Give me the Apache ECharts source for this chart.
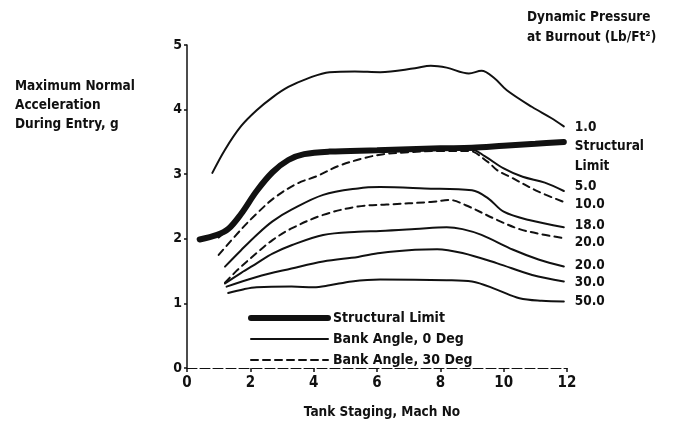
<!DOCTYPE html>
<html>
<head>
    <meta charset="utf-8">
    <title>Maximum Normal Acceleration</title>
    <script src="https://cdn.jsdelivr.net/npm/echarts@6/dist/echarts.min.js"></script>
    <style>
        html, body { margin: 0; padding: 0; background: #fff; }
    </style>
</head>
<body>
    <div id="main" style="width: 686px;height:431px;"></div>
    <script type="text/javascript">
        // curves: [Mach No, g]
        var structuralLimit = [[0.4, 1.99], [0.95, 2.06], [1.3, 2.15], [1.7, 2.38], [2.2, 2.74], [2.7, 3.03], [3.2, 3.22], [3.7, 3.31], [4.5, 3.35], [6, 3.37], [8, 3.40], [9, 3.41], [10, 3.44], [11, 3.47], [11.9, 3.50]];
        var q1 = [[0.8, 3.02], [1.2, 3.38], [1.7, 3.74], [2.2, 3.99], [2.7, 4.19], [3.2, 4.35], [3.8, 4.48], [4.5, 4.58], [5.3, 4.59], [6.1, 4.58], [7.2, 4.64], [7.7, 4.68], [8.2, 4.65], [8.9, 4.56], [9.3, 4.60], [9.7, 4.49], [10.1, 4.30], [10.9, 4.04], [11.5, 3.87], [11.9, 3.74]];
        var q5 = [[1.0, 2.02], [1.5, 2.25], [2.0, 2.6], [2.5, 2.92], [3.0, 3.14], [3.5, 3.27], [4.2, 3.33], [6, 3.36], [8, 3.38], [9.0, 3.38], [9.4, 3.28], [10.0, 3.09], [10.6, 2.96], [11.3, 2.87], [11.9, 2.74]];
        var q10 = [[1.0, 1.75], [1.7, 2.14], [2.2, 2.39], [2.8, 2.65], [3.5, 2.86], [4.1, 2.97], [4.8, 3.13], [5.6, 3.25], [6.2, 3.31], [7, 3.34], [8, 3.36], [8.9, 3.36], [9.5, 3.19], [9.8, 3.06], [10.2, 2.96], [11.1, 2.73], [11.9, 2.57]];
        var q18 = [[1.2, 1.57], [1.7, 1.82], [2.2, 2.06], [2.7, 2.27], [3.3, 2.45], [4.3, 2.68], [5.4, 2.78], [6.1, 2.80], [7.5, 2.78], [9.0, 2.75], [9.5, 2.63], [10.0, 2.42], [10.8, 2.29], [11.9, 2.18]];
        var q20dash = [[1.2, 1.32], [1.6, 1.52], [2.2, 1.78], [2.7, 1.98], [3.3, 2.16], [4.3, 2.37], [5.4, 2.50], [6.3, 2.53], [7.7, 2.57], [8.3, 2.60], [8.8, 2.52], [9.8, 2.29], [10.5, 2.15], [11.2, 2.07], [11.9, 2.01]];
        var q20 = [[1.2, 1.31], [1.7, 1.47], [2.2, 1.62], [2.7, 1.77], [3.3, 1.90], [4.3, 2.06], [5.4, 2.11], [6.1, 2.12], [7.2, 2.15], [8.2, 2.18], [8.7, 2.15], [9.3, 2.06], [10.3, 1.83], [11.1, 1.68], [11.9, 1.57]];
        var q30 = [[1.25, 1.26], [2.2, 1.41], [3.3, 1.54], [4.3, 1.65], [5.4, 1.72], [6.1, 1.78], [7.2, 1.83], [7.9, 1.84], [8.7, 1.78], [9.8, 1.62], [10.9, 1.44], [11.9, 1.34]];
        var q50 = [[1.3, 1.16], [1.8, 1.22], [2.2, 1.25], [3.3, 1.26], [4.0, 1.25], [4.5, 1.28], [5.2, 1.34], [6.1, 1.37], [8.2, 1.36], [9.0, 1.34], [9.8, 1.21], [10.5, 1.08], [11.2, 1.04], [11.9, 1.03]];

        var curves = [structuralLimit, q1, q5, q10, q18, q20dash, q20, q30, q50];
        var curveLabels = ['Structural\nLimit', '1.0', '5.0', '10.0', '18.0', '20.0', '20.0', '30.0', '50.0'];
        var curveKinds = ['Structural Limit', 'Bank Angle, 0 Deg', 'Bank Angle, 0 Deg', 'Bank Angle, 30 Deg', 'Bank Angle, 0 Deg', 'Bank Angle, 30 Deg', 'Bank Angle, 0 Deg', 'Bank Angle, 0 Deg', 'Bank Angle, 0 Deg'];
        var xTicks = ['0', '2', '4', '6', '8', '10', '12'];
        var yTicks = ['0', '1', '2', '3', '4', '5'];

        var ink = '#111';
        var font = "'Liberation Sans Narrow', 'DejaVu Sans Condensed', sans-serif";
        var labelNudge = [15, 1, -4, 3, -2, 4, -1, 1, 0];

        var myChart = echarts.init(document.getElementById('main'));

        var series = curves.map(function (c, i) {
            var kind = curveKinds[i];
            return {
                name: kind,
                type: 'line',
                data: c,
                smooth: 0.35,
                symbol: 'none',
                silent: true,
                itemStyle: { color: ink },
                lineStyle: {
                    color: ink,
                    width: kind === 'Structural Limit' ? 6 : 2,
                    type: kind === 'Bank Angle, 30 Deg' ? [7, 5] : 'solid',
                    cap: 'round'
                },
                endLabel: {
                    show: true,
                    formatter: curveLabels[i],
                    color: ink,
                    fontFamily: font,
                    fontWeight: 'bold',
                    fontSize: 13.5,
                    lineHeight: 20,
                    distance: 11,
                    offset: [0, labelNudge[i]]
                },
                z: kind === 'Structural Limit' ? 3 : 2
            };
        });

        var option = {
            animation: false,
            backgroundColor: '#fff',
            textStyle: { fontFamily: font, color: ink },
            title: [
                {
                    text: 'Maximum Normal\nAcceleration\nDuring Entry, g',
                    left: 10,
                    top: 72,
                    textStyle: { fontFamily: font, fontWeight: 'bold', fontSize: 13.5, lineHeight: 19, color: ink }
                },
                {
                    text: 'Dynamic Pressure\nat Burnout (Lb/Ft²)',
                    left: 522,
                    top: 2,
                    textStyle: { fontFamily: font, fontWeight: 'bold', fontSize: 13.5, lineHeight: 20, color: ink }
                }
            ],
            legend: {
                data: ['Structural Limit', 'Bank Angle, 0 Deg', 'Bank Angle, 30 Deg'],
                orient: 'vertical',
                left: 243,
                top: 306,
                itemWidth: 77,
                itemHeight: 14,
                itemGap: 7,
                selectedMode: false,
                itemStyle: { opacity: 0 },
                lineStyle: { width: 'inherit' },
                textStyle: { fontFamily: font, fontWeight: 'bold', fontSize: 14, color: ink }
            },
            grid: { left: 187, right: 119, top: 45, bottom: 63 },
            xAxis: {
                type: 'value',
                min: 0,
                max: 12,
                interval: 2,
                name: 'Tank Staging, Mach No',
                nameLocation: 'middle',
                nameGap: 37,
                nameTextStyle: { fontFamily: font, fontWeight: 'bold', fontSize: 13.5, color: ink, padding: [0, 0, 0, 10] },
                splitLine: { show: false },
                axisLine: { lineStyle: { color: ink, width: 1, type: [10, 3] } },
                axisTick: { length: 4, lineStyle: { color: ink, width: 1.5 } },
                axisLabel: {
                    margin: 8,
                    color: ink,
                    fontFamily: font,
                    fontWeight: 'bold',
                    fontSize: 15,
                    formatter: function (v) { return xTicks[v / 2]; }
                }
            },
            yAxis: {
                type: 'value',
                min: 0,
                max: 5,
                interval: 1,
                splitLine: { show: false },
                axisLine: { show: true, lineStyle: { color: ink, width: 1.5 } },
                axisTick: { show: true, length: 3, lineStyle: { color: ink, width: 1.5 } },
                axisLabel: {
                    margin: 5,
                    color: ink,
                    fontFamily: font,
                    fontWeight: 'bold',
                    fontSize: 14,
                    formatter: function (v) { return yTicks[v]; }
                }
            },
            series: series
        };
        myChart.setOption(option);
    </script>
</body>
</html>
